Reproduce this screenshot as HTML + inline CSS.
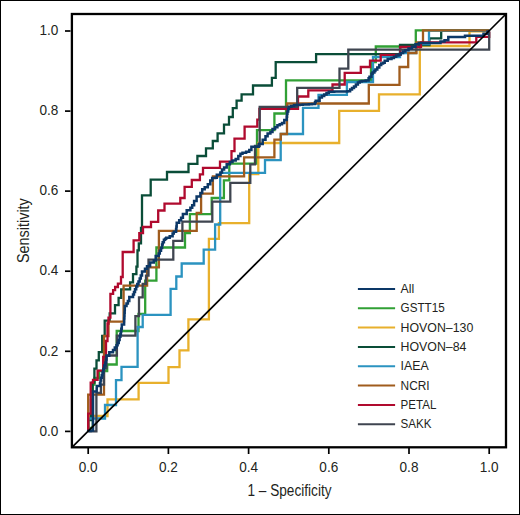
<!DOCTYPE html>
<html><head><meta charset="utf-8"><style>
html,body{margin:0;padding:0;background:#fff;}
body{width:520px;height:515px;overflow:hidden;}
svg{display:block;}
text{font-family:"Liberation Sans",sans-serif;fill:#231f20;}
</style></head><body>
<svg width="520" height="515" viewBox="0 0 520 515">
<rect x="0.5" y="0.5" width="519" height="514" fill="#fff" stroke="#000" stroke-width="1"/>
<g fill="none" stroke-width="2.3" stroke-linejoin="miter" stroke-linecap="butt">
<path d="M88.2 431.4L88.2 428L92.8 428L92.8 384.6L94.5 384.6L94.5 378L99 378L99 371L107.2 371L107.2 364.5L116.7 364.5L116.7 331L138.5 331L138.5 314L145.2 314L145.2 280.7L156.4 280.7L156.4 247.5L185 247.5L185 233L189.9 233L189.9 214.2L211.7 214.2L211.7 198L223.9 198L223.9 180.4L229.3 180.4L229.3 163.7L257 163.7L257 130.1L274.4 130.1L274.4 113.5L286 113.5L286 80.3L371 80.3L371 62L375.8 62L375.8 46.5L415.8 46.5L415.8 30.4L489.2 30.4" stroke="#31a035"/>
<path d="M88.2 431.4L88.2 416L107.5 416L107.5 399.3L138.6 399.3L138.6 382.8L168.5 382.8L168.5 367.2L179.5 367.2L179.5 350.3L188.4 350.3L188.4 319.4L208.9 319.4L208.9 238.9L218.9 238.9L218.9 223.2L249.2 223.2L249.2 174L258.3 174L258.3 143L339.2 143L339.2 110.8L379 110.8L379 94.3L419.8 94.3L419.8 46L469.5 46L469.5 31.4L489.2 31.4" stroke="#e8b02c"/>
<path d="M88.2 431.4L88.2 420L91 420L91 400L92.5 400L92.5 382.7L94.4 382.7L94.4 368.7L96.5 368.7L96.5 360.4L98.8 360.4L98.8 352.1L102.2 352.1L102.2 336L104.7 336L104.7 320.7L109.7 320.7L109.7 313.3L115 313.3L115 305.1L118.6 305.1L118.6 297.8L121.2 297.8L121.2 289.3L130.1 289.3L130.1 282.4L133 282.4L133 274.2L136.4 274.2L136.4 266.6L137.5 266.6L137.5 250.3L138.8 250.3L138.8 243.3L141 243.3L141 228L142 228L142 195.4L150.7 195.4L150.7 179.7L167 179.7L167 172L188.5 172L188.5 163.8L197.4 163.8L197.4 156L206 156L206 148.3L212.8 148.3L212.8 141L217.6 141L217.6 133.4L224 133.4L224 124.6L229 124.6L229 117L232.8 117L232.8 108.2L236.6 108.2L236.6 100.6L241.6 100.6L241.6 94.3L253 94.3L253 85.5L271.9 85.5L271.9 77.9L275.7 77.9L275.7 62.2L316.1 62.2L316.1 54.2L400 54.2L400 45L429.4 45L429.4 38.3L441.2 38.3L441.2 30.6L489.2 30.6" stroke="#0a4d38"/>
<path d="M88.2 431.4L88.2 418.5L105 418.5L105 405L116 405L116 380.1L121.5 380.1L121.5 366.8L137.6 366.8L137.6 327L142.7 327L142.7 314.9L170.6 314.9L170.6 288.9L176.3 288.9L176.3 276.5L181.7 276.5L181.7 263.5L203.7 263.5L203.7 249.6L215.1 249.6L215.1 224.5L220.2 224.5L220.2 172.8L265 172.8L265 160.2L280.7 160.2L280.7 134L303 134L303 107.8L318.5 107.8L318.5 94.8L346.9 94.8L346.9 82L373 82L373 57L400 57L400 53L416 53L416 44L429 44L429 30.6L489.2 30.6" stroke="#2b93c0"/>
<path d="M88.2 431.4L88.2 394.6L104 394.6L104 336L108.5 336L108.5 321.6L123.6 321.6L123.6 285.6L147.1 285.6L147.1 267.3L158.9 267.3L158.9 230.9L196.7 230.9L196.7 212.9L201.1 212.9L201.1 193.6L212.9 193.6L212.9 176.3L244.1 176.3L244.1 157.4L274.4 157.4L274.4 139.7L280.8 139.7L280.8 134L287 134L287 103.5L368.8 103.5L368.8 84.8L399.5 84.8L399.5 67L408.2 67L408.2 53L416.5 53L416.5 42.5L423 42.5L423 30.4L489.2 30.4" stroke="#a05c1d"/>
<path d="M88.2 431.4L88.2 413.6L90.7 413.6L90.7 382.7L93 382.7L93 379.9L97.6 379.9L97.6 370.6L103.2 370.6L103.2 357L106 357L106 341L107.5 341L107.5 323.5L108.5 323.5L108.5 317.6L110.4 317.6L110.4 293.8L113.1 293.8L113.1 290.1L115.1 290.1L115.1 287L117.9 287L117.9 283.6L121 283.6L121 277L122.7 277L122.7 252L133.6 252L133.6 240.3L139.3 240.3L139.3 233.2L143 233.2L143 227L151 227L151 221.9L158.2 221.9L158.2 210.5L164.5 210.5L164.5 203.6L180.3 203.6L180.3 198L184.6 198L184.6 186.8L191.8 186.8L191.8 180L199.9 180L199.9 174.4L203 174.4L203 167.9L220 167.9L220 161.6L231.5 161.6L231.5 151.2L234.5 151.2L234.5 138.6L244.6 138.6L244.6 126.6L257.3 126.6L257.3 119.6L259.4 119.6L259.4 108.8L298 108.8L298 96.5L308.3 96.5L308.3 90.3L332.5 90.3L332.5 84.5L344.7 84.5L344.7 72.8L360.8 72.8L360.8 67L370 67L370 60.7L380.7 60.7L380.7 54.8L400.3 54.8L400.3 47L421 47L421 42.3L476.3 42.3L476.3 36.9L489.2 36.9L489.2 31.4" stroke="#b00a2e"/>
<path d="M88.2 431.4L96.4 431.4L96.4 392.9L100.9 392.9L100.9 384.6L104 384.6L104 368L106.5 368L106.5 355.5L116.9 355.5L116.9 335.6L135.4 335.6L135.4 316.1L139 316.1L139 297.4L142.7 297.4L142.7 283.8L146 283.8L146 275.7L148.5 275.7L148.5 259.7L173.3 259.7L173.3 240.8L182.4 240.8L182.4 221.6L212.3 221.6L212.3 201.7L230.3 201.7L230.3 182.8L250.3 182.8L250.3 164.4L255 164.4L255 146L259.7 146L259.7 106.9L297.2 106.9L297.2 87.8L339.5 87.8L339.5 68.6L348.3 68.6L348.3 49.6L489.2 49.6L489.2 31.4" stroke="#3f4550"/>
<path d="M88.2 431.4L88.2 430.9L90.6 430.9L90.6 430.5L93 430.5L93 427.6L93 427.6L93 424.7L93 424.7L93 421.7L93 421.7L93 418.8L93 418.8L93 415.9L93 415.9L93 413L93 413L93 410L93 410L93 407.1L93 407.1L93 404.2L93 404.2L93 401.3L93 401.3L93 398.3L93 398.3L93 395.4L93 395.4L93 392.5L93 392.5L93 391.5L96.7 391.5L96.7 388.8L96.8 388.8L96.8 386L97 386L97 386L100 386L100 383.2L100.5 383.2L100.5 380.5L101 380.5L101 377.8L101.8 377.8L101.8 375.2L102.5 375.2L102.5 372.5L103.3 372.5L103.3 369L104.3 369L104.3 365.5L105.3 365.5L105.3 362.5L105.9 362.5L105.9 359.5L106.5 359.5L106.5 355.7L109.3 355.7L109.3 352.2L113 352.2L113 349.9L114.8 349.9L114.8 347.5L116.5 347.5L116.5 345.2L117.6 345.2L117.6 343L118.7 343L118.7 339.9L119.6 339.9L119.6 336.8L120.4 336.8L120.4 334.1L120.9 334.1L120.9 331.4L121.3 331.4L121.3 328.7L121.8 328.7L121.8 324.5L124.1 324.5L124.1 321.6L124.2 321.6L124.2 318.6L124.4 318.6L124.4 315.7L124.5 315.7L124.5 312.7L124.7 312.7L124.7 309.8L124.8 309.8L124.8 306L126.5 306L126.5 303.6L127.9 303.6L127.9 301.1L129.3 301.1L129.3 296.9L133 296.9L133 294.4L134 294.4L134 292L135 292L135 289.2L136.2 289.2L136.2 286.5L137.3 286.5L137.3 284L138.5 284L138.5 281.5L139.7 281.5L139.7 278.5L140.8 278.5L140.8 275.5L142 275.5L142 271.5L145 271.5L145 268.8L147 268.8L147 266.2L150.1 266.2L150.1 262.5L153.8 262.5L153.8 260.5L155.7 260.5L155.7 256.1L158.7 256.1L158.7 253.4L159.8 253.4L159.8 250.7L161 250.7L161 248L162.1 248L162.1 244.5L162.7 244.5L162.7 242.2L163.9 242.2L163.9 239.8L165.1 239.8L165.1 238.7L166.2 238.7L166.2 237.8L169.7 237.8L169.7 236.3L172.6 236.3L172.6 233.4L173.8 233.4L173.8 231.7L176.1 231.7L176.1 229.1L176.4 229.1L176.4 226.5L176.7 226.5L176.7 222.7L179.2 222.7L179.2 220.2L181.1 220.2L181.1 217.8L182.9 217.8L182.9 214L186.7 214L186.7 210.3L190.4 210.3L190.4 207.8L192.2 207.8L192.2 205.3L194.1 205.3L194.1 201L196.6 201L196.6 196.6L200.4 196.6L200.4 192.9L202.2 192.9L202.2 189.2L204.7 189.2L204.7 187.3L207.8 187.3L207.8 184.2L210.3 184.2L210.3 180.5L212.2 180.5L212.2 178L215.3 178L215.3 177.7L216.8 177.7L216.8 174.7L220.5 174.7L220.5 172.6L222 172.6L222 169.5L224.1 169.5L224.1 167.4L226.7 167.4L226.7 164.2L229.9 164.2L229.9 162.1L232.5 162.1L232.5 160.6L235.7 160.6L235.7 159L238.3 159L238.3 155.9L240.4 155.9L240.4 153.8L242.5 153.8L242.5 152.7L246.1 152.7L246.1 151.7L249.3 151.7L249.3 150.1L251.4 150.1L251.4 146.7L254.3 146.7L254.3 146.7L258.7 146.7L258.7 143.9L262.7 143.9L262.7 139.7L265.5 139.7L265.5 136.2L267.6 136.2L267.6 133.4L270.4 133.4L270.4 132L272.5 132L272.5 129.1L275.1 129.1L275.1 127.2L277.4 127.2L277.4 125.3L279.7 125.3L279.7 124.2L282 124.2L282 123L284.3 123L284.3 119.9L286.7 119.9L286.7 116.8L287 116.8L287 113.7L287.4 113.7L287.4 111.4L288.2 111.4L288.2 109.1L289 109.1L289 106.8L291.3 106.8L291.3 105.9L294 105.9L294 105.1L296.7 105.1L296.7 104.9L299.8 104.9L299.8 104.8L302.8 104.8L302.8 104.6L305.9 104.6L305.9 104.4L308.9 104.4L308.9 104.3L311.9 104.3L311.9 104.1L315 104.1L315 102.2L315.7 102.2L315.7 100.7L319.6 100.7L319.6 97.6L321.9 97.6L321.9 96L324.2 96L324.2 94.5L326.5 94.5L326.5 93L328.8 93L328.8 91.7L331.9 91.7L331.9 91.7L334.2 91.7L334.2 91.6L336.5 91.6L336.5 91.5L339.2 91.5L339.2 91.5L341.9 91.5L341.9 91.4L344.7 91.4L344.7 91.4L347.4 91.4L347.4 91.3L350.1 91.3L350.1 89.4L352 89.4L352 87.9L354 87.9L354 86.5L355.9 86.5L355.9 84.5L357.9 84.5L357.9 82.6L359.8 82.6L359.8 81.6L361.8 81.6L361.8 81.1L365.7 81.1L365.7 80.6L368.6 80.6L368.6 78.2L369.5 78.2L369.5 76.7L371.5 76.7L371.5 73.8L372.5 73.8L372.5 72.4L374.4 72.4L374.4 70.9L375.4 70.9L375.4 69.5L377.3 69.5L377.3 67.5L379.3 67.5L379.3 65.1L381.2 65.1L381.2 63.6L383.1 63.6L383.1 62.8L384.7 62.8L384.7 60.7L387.7 60.7L387.7 59.1L391.5 59.1L391.5 58L393.9 58L393.9 56.8L396.2 56.8L396.2 55.6L398.5 55.6L398.5 54.5L400.8 54.5L400.8 53L403.1 53L403.1 51.4L405.4 51.4L405.4 50.3L408.5 50.3L408.5 48.5L412 48.5L412 46.8L415.5 46.8L415.5 44.3L418.9 44.3L418.9 43L421.5 43L421.5 43L424.7 43L424.7 43L427.8 43L427.8 43L431 43L431 43L434.2 43L434.2 43L437.3 43L437.3 43L440.5 43L440.5 41.5L440.5 41.5L440.5 41.5L444.5 41.5L444.5 40.2L444.5 40.2L444.5 40.2L448.3 40.2L448.3 37L448.3 37L448.3 37L451.1 37L451.1 37L453.9 37L453.9 37L456.6 37L456.6 37L459.4 37L459.4 37L462.2 37L462.2 37L465 37L465 35.8L465 35.8L465 35.8L468.1 35.8L468.1 35.8L471.2 35.8L471.2 35.8L474.2 35.8L474.2 35.8L477.3 35.8L477.3 35.8L480.4 35.8L480.4 35.8L483.5 35.8L483.5 33.7L483.5 33.7L483.5 33.7L487.5 33.7L487.5 32.3L487.5 32.3L487.5 31.4L489.2 31.4" stroke="#0c3867" stroke-width="2.5"/>
</g>
<line x1="71.9" y1="447.3" x2="506" y2="14" stroke="#000" stroke-width="1.7"/>
<rect x="71.9" y="14" width="434.1" height="433.3" fill="none" stroke="#000" stroke-width="2.3"/>
<g stroke="#000" stroke-width="1.7"><line x1="88.2" y1="448" x2="88.2" y2="454"/><line x1="65" y1="431.4" x2="70.5" y2="431.4"/><line x1="168.4" y1="448" x2="168.4" y2="454"/><line x1="65" y1="351.3" x2="70.5" y2="351.3"/><line x1="248.6" y1="448" x2="248.6" y2="454"/><line x1="65" y1="271.2" x2="70.5" y2="271.2"/><line x1="328.8" y1="448" x2="328.8" y2="454"/><line x1="65" y1="191.1" x2="70.5" y2="191.1"/><line x1="409" y1="448" x2="409" y2="454"/><line x1="65" y1="111.1" x2="70.5" y2="111.1"/><line x1="489.2" y1="448" x2="489.2" y2="454"/><line x1="65" y1="31" x2="70.5" y2="31"/></g>
<g font-size="14.8"><text x="88.2" y="471.9" text-anchor="middle" textLength="18.9" lengthAdjust="spacingAndGlyphs">0.0</text><text x="58.4" y="435.6" text-anchor="end" textLength="18.9" lengthAdjust="spacingAndGlyphs">0.0</text><text x="168.4" y="471.9" text-anchor="middle" textLength="18.9" lengthAdjust="spacingAndGlyphs">0.2</text><text x="58.4" y="355.5" text-anchor="end" textLength="18.9" lengthAdjust="spacingAndGlyphs">0.2</text><text x="248.6" y="471.9" text-anchor="middle" textLength="18.9" lengthAdjust="spacingAndGlyphs">0.4</text><text x="58.4" y="275.4" text-anchor="end" textLength="18.9" lengthAdjust="spacingAndGlyphs">0.4</text><text x="328.8" y="471.9" text-anchor="middle" textLength="18.9" lengthAdjust="spacingAndGlyphs">0.6</text><text x="58.4" y="195.3" text-anchor="end" textLength="18.9" lengthAdjust="spacingAndGlyphs">0.6</text><text x="409" y="471.9" text-anchor="middle" textLength="18.9" lengthAdjust="spacingAndGlyphs">0.8</text><text x="58.4" y="115.3" text-anchor="end" textLength="18.9" lengthAdjust="spacingAndGlyphs">0.8</text><text x="489.2" y="471.9" text-anchor="middle" textLength="18.9" lengthAdjust="spacingAndGlyphs">1.0</text><text x="58.4" y="35.2" text-anchor="end" textLength="18.9" lengthAdjust="spacingAndGlyphs">1.0</text></g>
<g stroke-width="2"><line x1="357.9" y1="288.9" x2="395.1" y2="288.9" stroke="#0c3867"/><line x1="357.9" y1="308.2" x2="395.1" y2="308.2" stroke="#31a035"/><line x1="357.9" y1="327.6" x2="395.1" y2="327.6" stroke="#e8b02c"/><line x1="357.9" y1="346.9" x2="395.1" y2="346.9" stroke="#0a4d38"/><line x1="357.9" y1="366.2" x2="395.1" y2="366.2" stroke="#2b93c0"/><line x1="357.9" y1="385.5" x2="395.1" y2="385.5" stroke="#a05c1d"/><line x1="357.9" y1="404.9" x2="395.1" y2="404.9" stroke="#b00a2e"/><line x1="357.9" y1="424.2" x2="395.1" y2="424.2" stroke="#3f4550"/></g>
<g font-size="12.35"><text x="400.6" y="292.8">All</text><text x="400.6" y="312.2" textLength="44.1" lengthAdjust="spacingAndGlyphs">GSTT15</text><text x="400.6" y="331.5">HOVON–130</text><text x="400.6" y="350.8">HOVON–84</text><text x="400.6" y="370.2">IAEA</text><text x="400.6" y="389.5" textLength="29.1" lengthAdjust="spacingAndGlyphs">NCRI</text><text x="400.6" y="408.8" textLength="35.8" lengthAdjust="spacingAndGlyphs">PETAL</text><text x="400.6" y="428.2" textLength="31.0" lengthAdjust="spacingAndGlyphs">SAKK</text></g>
<text transform="translate(29.4 263) rotate(-90)" font-size="17.2" textLength="64.8" lengthAdjust="spacingAndGlyphs">Sensitivity</text>
<text x="247.5" y="496.3" font-size="17.2" textLength="84" lengthAdjust="spacingAndGlyphs">1 – Specificity</text>
</svg>
</body></html>
